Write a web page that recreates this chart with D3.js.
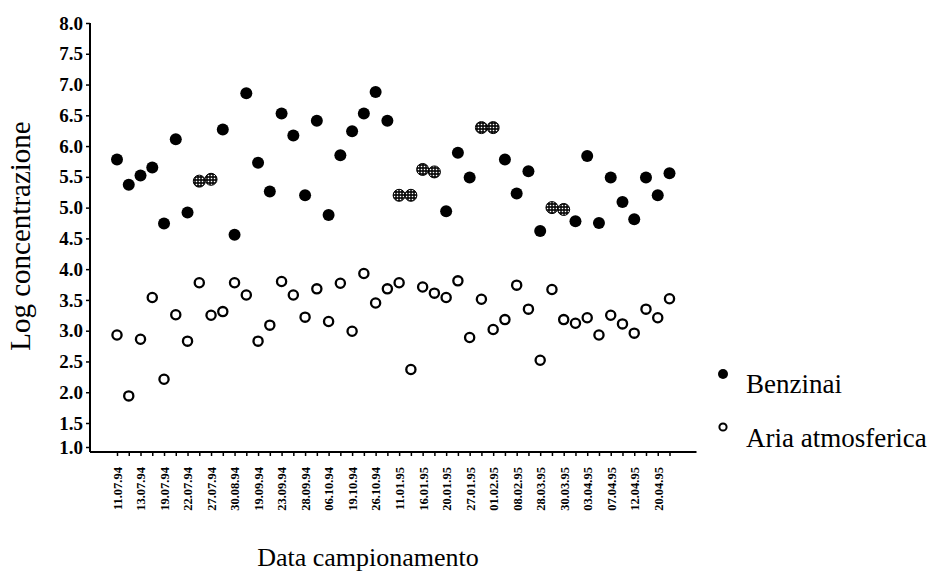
<!DOCTYPE html>
<html>
<head>
<meta charset="utf-8">
<script src="https://cdn.jsdelivr.net/npm/d3@7"></script>
<style>
  body { margin: 0; background: #fff; }
</style>
</head>
<body>
<div class="canvas"></div>
<script>
// tick labels on the x axis (one every second sample)
const dateLabels = [
  "11.07.94", "13.07.94", "19.07.94", "22.07.94", "27.07.94", "30.08.94",
  "19.09.94", "23.09.94", "28.09.94", "06.10.94", "19.10.94", "26.10.94",
  "11.01.95", "16.01.95", "20.01.95", "27.01.95", "01.02.95", "08.02.95",
  "28.03.95", "30.03.95", "03.04.95", "07.04.95", "12.04.95", "20.04.95"
];

// log concentration, fuel stations
const benzinai = [
  5.78, 5.37, 5.52, 5.65, 4.74, 6.11, 4.92, 5.43, 5.46, 6.27, 4.56, 6.86,
  5.73, 5.26, 6.53, 6.17, 5.20, 6.41, 4.88, 5.85, 6.24, 6.53, 6.88, 6.41,
  5.20, 5.20, 5.62, 5.58, 4.94, 5.89, 5.49, 6.30, 6.30, 5.78, 5.23, 5.59,
  4.62, 5.00, 4.97, 4.78, 5.84, 4.75, 5.49, 5.09, 4.81, 5.49, 5.20, 5.56
];

// log concentration, ambient air
const ariaAtmosferica = [
  2.93, 1.94, 2.86, 3.54, 2.21, 3.26, 2.83, 3.78, 3.25, 3.31, 3.78, 3.58,
  2.83, 3.09, 3.80, 3.58, 3.22, 3.68, 3.15, 3.77, 2.99, 3.93, 3.45, 3.68,
  3.78, 2.37, 3.71, 3.61, 3.54, 3.81, 2.89, 3.51, 3.02, 3.18, 3.74, 3.35,
  2.52, 3.67, 3.18, 3.12, 3.21, 2.93, 3.25, 3.11, 2.96, 3.35, 3.21, 3.52
];

// benzinai samples drawn with the hatched marker
const hatchedIdx = [7, 8, 24, 25, 26, 27, 31, 32, 37, 38];

const yTicks = [1.0, 1.5, 2.0, 2.5, 3.0, 3.5, 4.0, 4.5, 5.0, 5.5, 6.0, 6.5, 7.0, 7.5, 8.0];

const serif = "'Liberation Serif', 'Times New Roman', Times, serif";
const width = 946;
const height = 573;

const svg = d3
  .select(".canvas")
  .append("svg")
  .attr("width", width)
  .attr("height", height)
  .style("font-family", serif);

// hatched fill for the overlapping markers
const pattern = svg
  .append("defs")
  .append("pattern")
  .attr("id", "hatch")
  .attr("patternUnits", "userSpaceOnUse")
  .attr("width", 3)
  .attr("height", 3);
pattern.append("rect").attr("width", 3).attr("height", 3).attr("fill", "#111");
pattern.append("circle").attr("cx", 1.5).attr("cy", 1.5).attr("r", 0.8).attr("fill", "#fff");

// scales (axis is broken below 1.5)
const axisX = 90;
const axisY = 452;
const x = d3
  .scalePoint()
  .domain(d3.range(benzinai.length))
  .range([117, 669.5]);
const y = d3
  .scaleLinear()
  .domain([1.0, 1.5, 8.0])
  .range([447, 423, 23]);

// y axis
const yAxisGroup = svg
  .append("g")
  .attr("transform", `translate(${axisX}, 0)`)
  .call(
    d3.axisLeft(y)
      .tickValues(yTicks)
      .tickSize(4)
      .tickSizeOuter(0)
      .tickFormat(d3.format(".1f"))
  );
yAxisGroup.attr("font-family", null);
yAxisGroup.select(".domain").attr("stroke", "#000").attr("stroke-width", 2)
  .attr("d", `M0,${y(8.0)}V${axisY}`);
yAxisGroup.selectAll(".tick line").attr("stroke", "#000").attr("stroke-width", 1.5);
yAxisGroup.selectAll("text")
  .attr("x", -7)
  .attr("fill", "#000")
  .style("font-size", "19px")
  .style("font-weight", "bold")
  .style("font-family", serif);

// x axis
const xAxisGroup = svg
  .append("g")
  .attr("transform", `translate(0, ${axisY})`)
  .call(
    d3.axisBottom(x)
      .tickSize(4)
      .tickSizeOuter(0)
      .tickFormat(i => (i % 2 === 0 ? dateLabels[i / 2] : ""))
  );
xAxisGroup.attr("font-family", null);
xAxisGroup.select(".domain").attr("stroke", "#000").attr("stroke-width", 2)
  .attr("d", `M${axisX},0H${x.range()[1] + 27}`);
xAxisGroup.selectAll(".tick line").attr("stroke", "#000").attr("stroke-width", 1.5);
xAxisGroup.selectAll("text")
  .attr("transform", "rotate(-90)")
  .attr("text-anchor", "end")
  .attr("x", -15)
  .attr("y", 0)
  .attr("dy", "0.35em")
  .attr("fill", "#000")
  .style("font-size", "12.5px")
  .style("font-weight", "bold")
  .style("font-family", serif);

// axis titles
svg.append("text")
  .attr("transform", `translate(30, 236) rotate(-90)`)
  .attr("text-anchor", "middle")
  .style("font-family", serif)
  .style("font-size", "29px")
  .text("Log concentrazione");

svg.append("text")
  .attr("x", 368)
  .attr("y", 566)
  .attr("text-anchor", "middle")
  .style("font-family", serif)
  .style("font-size", "26px")
  .text("Data campionamento");

// open circles, ambient air
svg.append("g")
  .selectAll("circle")
  .data(ariaAtmosferica)
  .enter()
  .append("circle")
  .attr("cx", (d, i) => x(i))
  .attr("cy", d => y(d))
  .attr("r", 4.6)
  .attr("fill", "#fff")
  .attr("stroke", "#000")
  .attr("stroke-width", 2.3);

// filled dots, fuel stations
svg.append("g")
  .selectAll("circle")
  .data(benzinai)
  .enter()
  .append("circle")
  .attr("cx", (d, i) => x(i))
  .attr("cy", d => y(d))
  .attr("r", 6)
  .attr("fill", (d, i) => (hatchedIdx.includes(i) ? "url(#hatch)" : "#000"))
  .attr("stroke", (d, i) => (hatchedIdx.includes(i) ? "#000" : "none"))
  .attr("stroke-width", 1);

// legend
const legend = svg.append("g").attr("transform", "translate(723, 0)");
legend.append("circle")
  .attr("cx", 0).attr("cy", 374).attr("r", 5).attr("fill", "#000");
legend.append("text")
  .attr("x", 23).attr("y", 393)
  .style("font-family", serif)
  .style("font-size", "27px")
  .text("Benzinai");
legend.append("circle")
  .attr("cx", 0).attr("cy", 427).attr("r", 3.6)
  .attr("fill", "#fff").attr("stroke", "#000").attr("stroke-width", 2);
legend.append("text")
  .attr("x", 23).attr("y", 447)
  .style("font-family", serif)
  .style("font-size", "27px")
  .text("Aria atmosferica");
</script>
</body>
</html>
